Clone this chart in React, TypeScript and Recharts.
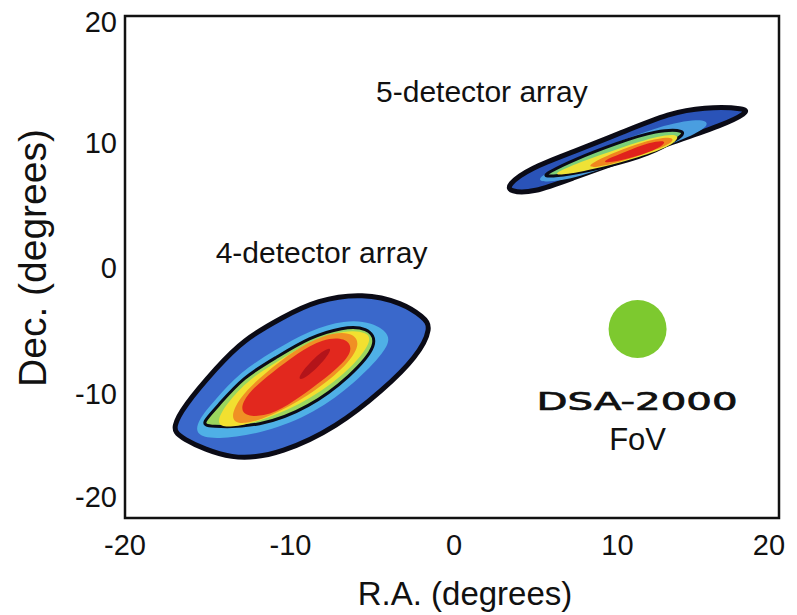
import { ScatterChart, Scatter, XAxis, YAxis, ReferenceArea, ReferenceDot } from 'recharts';

const FONT = '"Liberation Sans", Arial, Helvetica, sans-serif';

const axisTicks = [-20, -10, 0, 10, 20];

// 4-detector array localisation (R.A., Dec. in degrees)
const fourOuter = [
  { x: -5.44, y: -2.07 }, { x: -3.0, y: -2.87 }, { x: -1.77, y: -3.98 }, { x: -1.22, y: -4.78 },
  { x: -2.14, y: -7.17 }, { x: -4.22, y: -9.8 }, { x: -7.03, y: -12.75 }, { x: -10.34, y: -14.82 },
  { x: -13.4, y: -15.54 }, { x: -16.82, y: -13.55 }, { x: -17.06, y: -12.75 }, { x: -16.45, y: -11.16 },
  { x: -14.37, y: -7.97 }, { x: -12.78, y: -5.82 }, { x: -10.34, y: -3.98 }, { x: -8.26, y: -2.63 },
];
const fourHalo = [
  { x: -15.72, y: -13.39 }, { x: -15.54, y: -12.19 }, { x: -14.5, y: -10.6 }, { x: -12.97, y: -8.37 },
  { x: -10.83, y: -6.61 }, { x: -8.69, y: -5.02 }, { x: -6.54, y: -4.22 }, { x: -4.9, y: -4.38 },
  { x: -3.67, y: -5.42 }, { x: -4.1, y: -6.77 }, { x: -5.93, y: -9.24 }, { x: -8.38, y: -11.63 },
  { x: -11.44, y: -13.23 }, { x: -14.5, y: -13.78 },
];
const fourInner = [
  { x: -5.2, y: -4.78 }, { x: -4.4, y: -6.06 }, { x: -6.24, y: -8.76 }, { x: -8.69, y: -11.16 },
  { x: -11.74, y: -12.75 }, { x: -14.98, y: -12.75 }, { x: -15.29, y: -12.43 }, { x: -14.37, y: -11.16 },
  { x: -12.78, y: -8.76 }, { x: -10.7, y: -7.17 }, { x: -8.69, y: -5.58 }, { x: -6.67, y: -4.78 },
];
const fourYellow = [
  { x: -14.5, y: -12.59 }, { x: -13.88, y: -11.0 }, { x: -12.35, y: -8.84 }, { x: -10.52, y: -7.41 },
  { x: -8.56, y: -5.82 }, { x: -6.54, y: -5.02 }, { x: -5.14, y: -5.18 }, { x: -4.9, y: -5.98 },
  { x: -6.24, y: -8.21 }, { x: -8.69, y: -10.6 }, { x: -11.44, y: -12.19 }, { x: -13.58, y: -12.83 },
];
const fourOrange = [
  { x: -13.6, y: -12.2 }, { x: -13.1, y: -10.5 }, { x: -11.5, y: -8.5 }, { x: -9.6, y: -6.6 },
  { x: -7.9, y: -5.4 }, { x: -6.2, y: -5.1 }, { x: -5.5, y: -6.1 }, { x: -6.6, y: -8.1 },
  { x: -8.8, y: -10.3 }, { x: -11.1, y: -11.9 }, { x: -12.8, y: -12.6 },
];
const fourRed = [
  { x: -13.1, y: -11.8 }, { x: -12.6, y: -10.1 }, { x: -11.0, y: -8.4 }, { x: -9.4, y: -6.8 },
  { x: -7.9, y: -5.7 }, { x: -6.5, y: -5.6 }, { x: -6.0, y: -6.6 }, { x: -6.9, y: -8.0 },
  { x: -8.7, y: -9.8 }, { x: -10.0, y: -11.0 }, { x: -11.5, y: -12.0 },
];
const fourCore = [
  { x: -9.6, y: -9.0 }, { x: -8.38, y: -7.09 }, { x: -7.28, y: -6.22 }, { x: -7.58, y: -7.17 }, { x: -9.0, y: -9.0 },
];

// 5-detector array localisation
const fiveOuter = [
  { x: 18.04, y: 12.67 }, { x: 15.35, y: 12.75 }, { x: 13.33, y: 12.27 }, { x: 10.46, y: 10.76 },
  { x: 7.4, y: 9.16 }, { x: 4.77, y: 7.89 }, { x: 3.36, y: 6.53 }, { x: 3.55, y: 5.98 },
  { x: 4.95, y: 5.9 }, { x: 7.4, y: 7.09 }, { x: 10.46, y: 8.53 }, { x: 13.52, y: 9.96 },
  { x: 16.57, y: 11.31 }, { x: 18.04, y: 12.27 },
];
const fiveHalo = [
  { x: 4.77, y: 6.77 }, { x: 6.61, y: 8.13 }, { x: 9.66, y: 9.72 }, { x: 12.72, y: 11.24 },
  { x: 15.17, y: 11.87 }, { x: 15.9, y: 11.39 }, { x: 14.56, y: 10.36 }, { x: 12.11, y: 9.16 },
  { x: 9.05, y: 7.73 }, { x: 6.61, y: 6.77 },
];
const fiveInner = [
  { x: 14.37, y: 10.92 }, { x: 12.54, y: 10.92 }, { x: 10.09, y: 9.88 }, { x: 7.4, y: 8.53 },
  { x: 5.81, y: 7.49 }, { x: 5.57, y: 7.17 }, { x: 7.03, y: 7.33 }, { x: 9.48, y: 7.97 },
  { x: 12.11, y: 8.92 }, { x: 13.94, y: 10.28 },
];
const fiveYellow = [
  { x: 6.0, y: 7.33 }, { x: 7.83, y: 8.37 }, { x: 10.28, y: 9.48 }, { x: 12.72, y: 10.52 },
  { x: 14.07, y: 10.6 }, { x: 13.46, y: 9.64 }, { x: 11.5, y: 8.76 }, { x: 9.05, y: 7.89 }, { x: 6.91, y: 7.33 },
];
const fiveOrange = [
  { x: 8.13, y: 8.05 }, { x: 9.97, y: 9.16 }, { x: 11.8, y: 10.04 }, { x: 13.46, y: 10.44 },
  { x: 13.64, y: 9.96 }, { x: 12.11, y: 9.16 }, { x: 10.28, y: 8.37 }, { x: 8.75, y: 7.89 },
];
const fiveRed = [
  { x: 9.05, y: 8.37 }, { x: 10.58, y: 9.16 }, { x: 12.11, y: 9.96 }, { x: 13.21, y: 10.12 },
  { x: 12.72, y: 9.48 }, { x: 11.19, y: 8.76 }, { x: 9.66, y: 8.29 },
];

// DSA-2000 field of view marker and annotations
const fovCentre = { x: 11.35, y: -4.94 };
const annotations = [
  { x: 1.83, y: 14.02, text: '5-detector array' },
  { x: -7.98, y: 1.16, text: '4-detector array' },
  { x: 11.35, y: -13.67, text: 'FoV' },
];
const dsaLabel = { x: 11.32, y: -10.68, text: 'DSA-2000' };

const layers = [
  { data: fourOuter, fill: '#3a68cb', stroke: '#0b0b16', width: 5 },
  { data: fourHalo, fill: '#4fb0e6', stroke: 'none', width: 0 },
  { data: fourInner, fill: '#9ad65e', stroke: '#0b0b16', width: 3 },
  { data: fourYellow, fill: '#f2e030', stroke: 'none', width: 0 },
  { data: fourOrange, fill: '#f09024', stroke: 'none', width: 0 },
  { data: fourRed, fill: '#e2281e', stroke: 'none', width: 0 },
  { data: fourCore, fill: '#b3141a', stroke: 'none', width: 0 },
  { data: fiveOuter, fill: '#2a53b8', stroke: '#0b0b16', width: 5 },
  { data: fiveHalo, fill: '#4a9ee0', stroke: 'none', width: 0 },
  { data: fiveInner, fill: '#7ccf78', stroke: '#0b0b16', width: 3 },
  { data: fiveYellow, fill: '#eee236', stroke: 'none', width: 0 },
  { data: fiveOrange, fill: '#f0861e', stroke: 'none', width: 0 },
  { data: fiveRed, fill: '#e0221c', stroke: 'none', width: 0 },
];

const noDot = () => <g />;

function XTick({ x, y, payload }: any) {
  const shift = payload.value === 20 ? -10 : payload.value === -20 ? 0 : 2;
  return (
    <text x={x + shift} y={y + 29} textAnchor="middle" fontSize={29} fontFamily={FONT} fill="#111">
      {payload.value}
    </text>
  );
}

function YTick({ x, y, payload }: any) {
  const shift = payload.value === 20 ? 6 : payload.value === -20 ? -21 : 1;
  return (
    <text x={x} y={y + shift + 10} textAnchor="end" fontSize={29} fontFamily={FONT} fill="#111">
      {payload.value}
    </text>
  );
}

export default function App() {
  return (
    <div style={{ position: 'absolute', left: 0, top: 0, background: '#fff' }}>
      <ScatterChart width={797} height={615} margin={{ top: 16, right: 18, bottom: 0, left: 0 }}>
        <XAxis
          type="number"
          dataKey="x"
          domain={[-20, 20]}
          ticks={axisTicks}
          axisLine={false}
          tickLine={false}
          height={97}
          tick={<XTick />}
          label={{
            content: ({ viewBox }: any) => (
              <text
                x={viewBox.x + viewBox.width / 2 + 13}
                y={viewBox.y + 87}
                textAnchor="middle"
                fontSize={33}
                fontFamily={FONT}
                fill="#111"
              >
                R.A. (degrees)
              </text>
            ),
          }}
        />
        <YAxis
          type="number"
          dataKey="y"
          domain={[-20, 20]}
          ticks={axisTicks}
          axisLine={false}
          tickLine={false}
          width={125}
          tick={<YTick />}
          label={{
            content: ({ viewBox }: any) => (
              <text
                transform={`translate(${viewBox.x + 46}, ${viewBox.y + viewBox.height / 2 - 9}) rotate(-90)`}
                textAnchor="middle"
                fontSize={39}
                fontFamily={FONT}
                fill="#111"
              >
                Dec. (degrees)
              </text>
            ),
          }}
        />
        {layers.map((layer, i) => (
          <Scatter
            key={`layer-${i}`}
            data={layer.data}
            shape={noDot}
            line={{ fill: layer.fill, stroke: layer.stroke, strokeWidth: layer.width }}
            lineJointType="basisClosed"
            legendType="none"
            isAnimationActive={false}
          />
        ))}
        <ReferenceDot x={fovCentre.x} y={fovCentre.y} r={29} fill="#7dc92f" stroke="none" />
        {annotations.map((a) => (
          <ReferenceDot
            key={a.text}
            x={a.x}
            y={a.y}
            r={0}
            stroke="none"
            label={{ value: a.text, position: 'center', fontSize: a.text === 'FoV' ? 31 : 30, fontFamily: FONT, fill: '#111' }}
          />
        ))}
        <ReferenceDot
          x={dsaLabel.x}
          y={dsaLabel.y}
          r={0}
          stroke="none"
          label={{
            content: ({ viewBox }: any) => (
              <text
                x={viewBox.x + viewBox.width / 2}
                y={viewBox.y + viewBox.height / 2 + 9}
                textAnchor="middle"
                fontSize={25}
                fontFamily='"DejaVu Sans", sans-serif'
                textLength={201}
                lengthAdjust="spacingAndGlyphs"
                fill="#111"
                stroke="#111"
                strokeWidth={0.7}
              >
                {dsaLabel.text}
              </text>
            ),
          }}
        />
        <ReferenceArea x1={-20} x2={20} y1={-20} y2={20} fill="none" stroke="#111" strokeWidth={2.5} />
      </ScatterChart>
    </div>
  );
}
